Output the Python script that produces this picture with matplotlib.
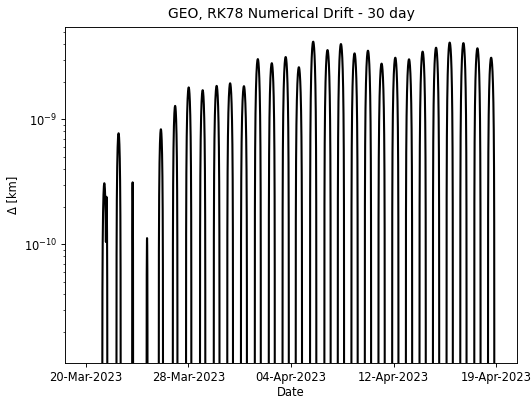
import numpy as np
import matplotlib
matplotlib.use("Agg")
import matplotlib.pyplot as plt

# ---- data ----
start_time = np.datetime64("2023-03-20T12:00:00")
span_days = 30

# centre of each daily drift arch (days after start), its full width (days) and peak value (km)
arch_center_days = [1.37, 1.53, 2.41, 3.436, 4.49, 5.50, 6.54, 7.53, 8.55, 9.57,
                    10.555, 11.563, 12.576, 13.596, 14.61, 15.574, 16.619, 17.665,
                    18.644, 19.639, 20.618, 21.613, 22.614, 23.616, 24.610, 25.590,
                    26.585, 27.587, 28.610, 29.612]
arch_width_days = [0.30, 0.12, 0.31, 0.07, 0.07, 0.31, 0.34, 0.39, 0.39, 0.42,
                   0.42, 0.44, 0.44, 0.44, 0.46, 0.46, 0.46, 0.46,
                   0.46, 0.46, 0.46, 0.46, 0.46, 0.46, 0.46, 0.46,
                   0.46, 0.46, 0.46, 0.46]
arch_peak_km = [3.08e-10, 2.4e-10, 7.73e-10, 3.13e-10, 1.12e-10, 8.32e-10, 1.28e-9,
                1.80e-9, 1.71e-9, 1.85e-9, 1.94e-9, 1.84e-9, 3.03e-9, 2.81e-9,
                3.15e-9, 2.61e-9, 4.18e-9, 3.58e-9, 4.00e-9, 3.37e-9, 3.54e-9,
                2.79e-9, 3.11e-9, 3.02e-9, 3.48e-9, 3.74e-9, 4.11e-9, 4.07e-9,
                3.70e-9, 3.11e-9]
tick_labels = ["20-Mar-2023", "28-Mar-2023", "04-Apr-2023", "12-Apr-2023", "19-Apr-2023"]

# ---- build the drawn curve from the arch table ----
days = np.linspace(0, span_days, 60001)
delta = np.zeros_like(days)
for c, w, a in zip(arch_center_days, arch_width_days, arch_peak_km):
    u = (days - c) / (w / 2.0)
    inside = np.abs(u) < 1
    vals = np.zeros_like(days)
    vals[inside] = a * np.cos(np.pi / 2 * u[inside])
    delta = np.maximum(delta, vals)

times = start_time + (days * 86400).astype("timedelta64[s]")

DPI = 83.125
fig = plt.figure(figsize=(532 / DPI, 402 / DPI), dpi=DPI)
ax = fig.add_axes([65 / 532, 39 / 402, (517 - 65) / 532, (363 - 27) / 402])
ax.plot(times, delta, color="black", lw=1.8)
ax.set_yscale("log", nonpositive="clip")
ax.set_ylim(1.123e-11, 5.475e-9)

tick_times = start_time + (np.linspace(0, span_days, 5) * 86400).astype("timedelta64[s]")
ax.set_xticks(tick_times)
ax.set_xticklabels(tick_labels)
ax.set_xlim(start_time - np.timedelta64(36, "h"),
            start_time + np.timedelta64(int((span_days + 1.5) * 24), "h"))

ax.set_title("GEO, RK78 Numerical Drift - 30 day", pad=8)
ax.set_xlabel("Date", labelpad=1.5)
ax.set_ylabel("Δ [km]")

fig.savefig("out.png", dpi=DPI)
